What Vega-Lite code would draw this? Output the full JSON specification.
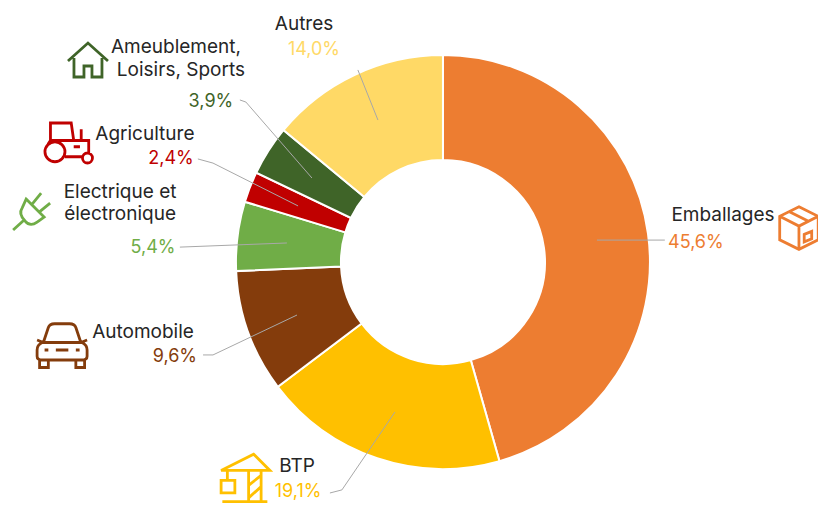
{
"$schema":"https://vega.github.io/schema/vega-lite/v6.json",
"width":818,"height":505,"padding":0,
"autosize":"none",
"background":"white",
"view":{"stroke":null},
"datasets":{
"shares":[
{"rank":1,"category":"Emballages","share":45.6},
{"rank":2,"category":"BTP","share":19.1},
{"rank":3,"category":"Automobile","share":9.6},
{"rank":4,"category":"Electrique","share":5.4},
{"rank":5,"category":"Agriculture","share":2.4},
{"rank":6,"category":"Ameublement","share":3.9},
{"rank":7,"category":"Autres","share":14.0}],
"leaders":[
{"category":"Emballages","seq":1,"x":74.4,"y":10.6},{"category":"Emballages","seq":2,"x":107.2,"y":10.6},
{"category":"Autres","seq":1,"x":-31.4,"y":68.6},{"category":"Autres","seq":2,"x":-41.1,"y":92.8},
{"category":"Ameublement","seq":1,"x":-98.1,"y":78.3},{"category":"Ameublement","seq":2,"x":-95.2,"y":77.3},{"category":"Ameublement","seq":3,"x":-63.3,"y":40.6},
{"category":"Agriculture","seq":1,"x":-118.4,"y":49.8},{"category":"Agriculture","seq":2,"x":-111.1,"y":47.8},{"category":"Agriculture","seq":3,"x":-70.0,"y":27.1},
{"category":"Electrique","seq":1,"x":-127.1,"y":7.2},{"category":"Electrique","seq":2,"x":-75.4,"y":9.2},
{"category":"Automobile","seq":1,"x":-115.9,"y":-44.9},{"category":"Automobile","seq":2,"x":-111.1,"y":-44.9},{"category":"Automobile","seq":3,"x":-70.5,"y":-25.6},
{"category":"BTP","seq":1,"x":-54.6,"y":-111.6},{"category":"BTP","seq":2,"x":-48.8,"y":-110.1},{"category":"BTP","seq":3,"x":-23.2,"y":-72.5}],
"names":[
{"label":"Autres","x":-67.1,"y":115.0},
{"label":"Ameublement,","x":-129.0,"y":103.9},
{"label":"Loisirs, Sports","x":-126.6,"y":92.8},
{"label":"Agriculture","x":-144.0,"y":61.8},
{"label":"Electrique et","x":-156.0,"y":33.8},
{"label":"électronique","x":-156.0,"y":23.2},
{"label":"Automobile","x":-144.9,"y":-33.8},
{"label":"BTP","x":-70.5,"y":-98.6},
{"label":"Emballages","x":135.3,"y":22.7}],
"percents":[
{"category":"Autres","label":"14,0%","x":-62.3,"y":102.4},
{"category":"Ameublement","label":"3,9%","x":-112.1,"y":77.3},
{"category":"Agriculture","label":"2,4%","x":-131.4,"y":49.8},
{"category":"Electrique","label":"5,4%","x":-140.1,"y":6.8},
{"category":"Automobile","label":"9,6%","x":-129.5,"y":-45.9},
{"category":"BTP","label":"19,1%","x":-70.0,"y":-111.1},
{"category":"Emballages","label":"45,6%","x":122.2,"y":9.2}],
"icons":[
{"category":"Ameublement","x":-171.5,"y":97.6},
{"category":"Agriculture","x":-180.2,"y":57.5},
{"category":"Electrique","x":-198,"y":25.1},
{"category":"Automobile","x":-184,"y":-40.1},
{"category":"BTP","x":-95.7,"y":-104.3},
{"category":"Emballages","x":172,"y":16.4}]
},
"encoding":{
"x":{"type":"quantitative","scale":{"domain":[-214,181.2]},"axis":null},
"y":{"type":"quantitative","scale":{"domain":[-117.4,126.6]},"axis":null}
},
"layer":[
{"data":{"name":"shares"},
"mark":{"type":"arc","innerRadius":102,"outerRadius":207,"stroke":"#FFFFFF","strokeWidth":2},
"encoding":{
"x":{"datum":0,"type":"quantitative"},
"y":{"datum":0,"type":"quantitative"},
"theta":{"field":"share","type":"quantitative","stack":true},
"order":{"field":"rank"},
"color":{"field":"category","type":"nominal","legend":null,
"scale":{"domain":["Emballages","BTP","Automobile","Electrique","Agriculture","Ameublement","Autres"],"range":["#ED7D31","#FFC000","#843C0C","#70AD47","#C00000","#3F6428","#FFD966"]}}
}},
{"data":{"name":"leaders"},
"mark":{"type":"line","stroke":"#A8A8A8","strokeWidth":1},
"encoding":{
"x":{"field":"x"},"y":{"field":"y"},
"detail":{"field":"category"},
"order":{"field":"seq"}
}},
{"data":{"name":"names"},
"mark":{"type":"text","font":"Inter","fontSize":19,"fill":"#262626","baseline":"middle","align":"center"},
"encoding":{"x":{"field":"x"},"y":{"field":"y"},"text":{"field":"label"}}},
{"data":{"name":"percents"},
"mark":{"type":"text","font":"Inter","fontSize":18,"baseline":"middle","align":"center"},
"encoding":{"x":{"field":"x"},"y":{"field":"y"},"text":{"field":"label"},
"color":{"field":"category","type":"nominal","legend":null}}},
{"data":{"name":"icons"},
"mark":{"type":"point","filled":false,"strokeWidth":2.8,"size":2500,"opacity":1},
"encoding":{"x":{"field":"x"},"y":{"field":"y"},
"color":{"field":"category","type":"nominal","legend":null},
"shape":{"field":"category","type":"nominal","legend":null,
"scale":{"domain":["Ameublement","Agriculture","Electrique","Automobile","BTP","Emballages"],
"range":[
"M-.8,.04 L0,-.68 L.8,.04 M-.56,-.08 L-.56,.68 L-.16,.68 L-.16,.24 L.16,.24 L.16,.68 L.56,.68 L.56,-.08",
"M-1,.35 a.4,.4 0 1,0 .8,0 a.4,.4 0 1,0 -.8,0 M-.78,-.1 L-.78,-.8 L.05,-.8 L.15,-.1 M-.88,.05 L-.78,-.1 L.75,-.1 L.75,.45 M-.2,.55 L.5,.55 M.45,-.1 L.45,-.55 M.5,.6 a.2,.2 0 1,0 .4,0 a.2,.2 0 1,0 -.4,0 M.15,.15 L.4,.15",
"M-.28,-.44 L.44,.28 L.16,.48 Q-.12,.68 -.32,.44 Q-.6,.16 -.44,-.08 Z M-.04,-.24 L.32,-.68 M.24,.08 L.68,-.28 M-.8,.8 L-.36,.4",
"M-.75,-.1 L-.55,-.7 Q-.5,-.85 -.3,-.85 L.3,-.85 Q.5,-.85 .55,-.7 L.75,-.1 M-1,-.2 L-.75,-.1 M1,-.2 L.75,-.1 M-.8,-.1 Q-1,0 -1,.2 L-1,.45 Q-1,.6 -.8,.6 L.8,.6 Q1,.6 1,.45 L1,.2 Q1,0 .8,-.1 Z M-.9,.6 L-.9,.9 L-.55,.9 L-.55,.6 M.9,.6 L.9,.9 L.55,.9 L.55,.6 M-.25,.2 L.25,.2 M-.7,.2 L-.55,.2 M.55,.2 L.7,.2",
"M-.95,-.3 L.35,-.95 L1,-.3 Z M.15,-.3 L.15,.95 L.65,.95 L.65,-.3 M.15,.3 L.65,-.1 M.15,.8 L.65,.35 M-.9,.95 L.9,.95 M-.7,-.3 L-.7,.1 M-.95,.1 L-.4,.1 L-.4,.6 L-.95,.6 Z",
"M0,-.85 L.77,-.47 L.77,.47 L0,.85 L-.77,.47 L-.77,-.47 Z M-.77,-.47 L0,-.08 L.77,-.47 M0,-.08 L0,.85 M-.38,-.65 L.38,-.27 M.21,.25 L.51,.13 L.51,.43 L.21,.55 Z"
]}}
}}
]
}
